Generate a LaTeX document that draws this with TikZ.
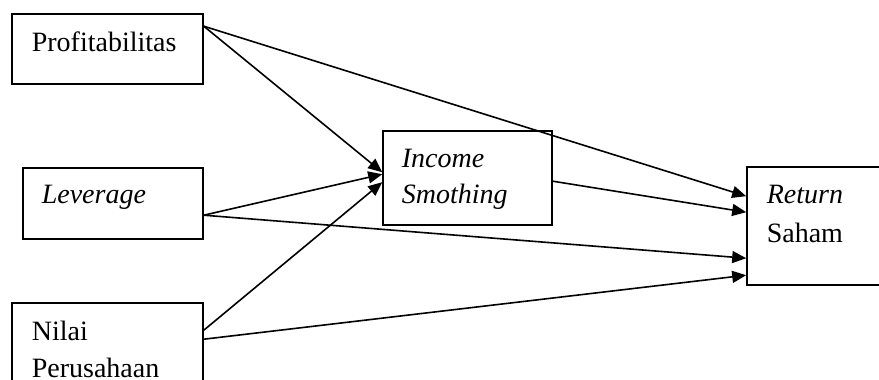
\documentclass[tikz,border=0pt]{standalone}
\usepackage{fontspec}
\setmainfont{Liberation Serif}
\usetikzlibrary{arrows.meta}

\begin{document}
\begin{tikzpicture}[x=0.5pt, y=-0.5pt, >={Triangle[length=7pt,width=6pt]}, line width=0.8pt,
  box/.style={draw, rectangle, inner sep=0pt},
  txt/.style={anchor=base west, inner sep=0pt, font=\fontsize{14}{17}\selectfont}]
  \useasboundingbox (0,0) rectangle (879,380);
  % boxes
  \node[box, minimum width=95.5pt, minimum height=35pt] (prof) at (107.5,49) {};
  \node[box, minimum width=90pt, minimum height=35.5pt] (lev) at (113,203.5) {};
  \node[box, minimum width=95.5pt, minimum height=46pt] (nilai) at (107.5,349) {};
  \node[box, minimum width=84.5pt, minimum height=47pt] (inc) at (467.5,178) {};
  \node[box, minimum width=75pt, minimum height=59pt] (ret) at (822,226) {};
  % labels
  \node[txt] (profT) at (31,51) {Profitabilitas};
  \node[txt] (levT) at (41,203) {\itshape Leverage};
  \node[txt] (nilaiT) at (31,340) {Nilai};
  \node[txt] (nilaiB) at (31,377) {Perusahaan};
  \node[txt] (incT) at (401,167) {\itshape Income};
  \node[txt] (incB) at (401,203) {\itshape Smothing};
  \node[txt] (retT) at (766,203) {\itshape Return};
  \node[txt] (retB) at (766,242) {Saham};
  % paths
  \draw[->] ([yshift=-6.5pt]prof.north east) -- ([yshift=-21pt]inc.north west);
  \draw[->] ([yshift=-6.5pt]prof.north east) -- ([yshift=-15pt]ret.north west);
  \draw[->] ([yshift=-24pt]lev.north east) -- ([yshift=-22pt]inc.north west);
  \draw[->] ([yshift=-24pt]lev.north east) -- ([yshift=-46pt]ret.north west);
  \draw[->] ([yshift=-14pt]nilai.north east) -- ([yshift=-26pt]inc.north west);
  \draw[->] ([yshift=-18.5pt]nilai.north east) -- ([yshift=-54.5pt]ret.north west);
  \draw[->] ([yshift=-25.5pt]inc.north east) -- ([yshift=-23pt]ret.north west);
\end{tikzpicture}
\end{document}
